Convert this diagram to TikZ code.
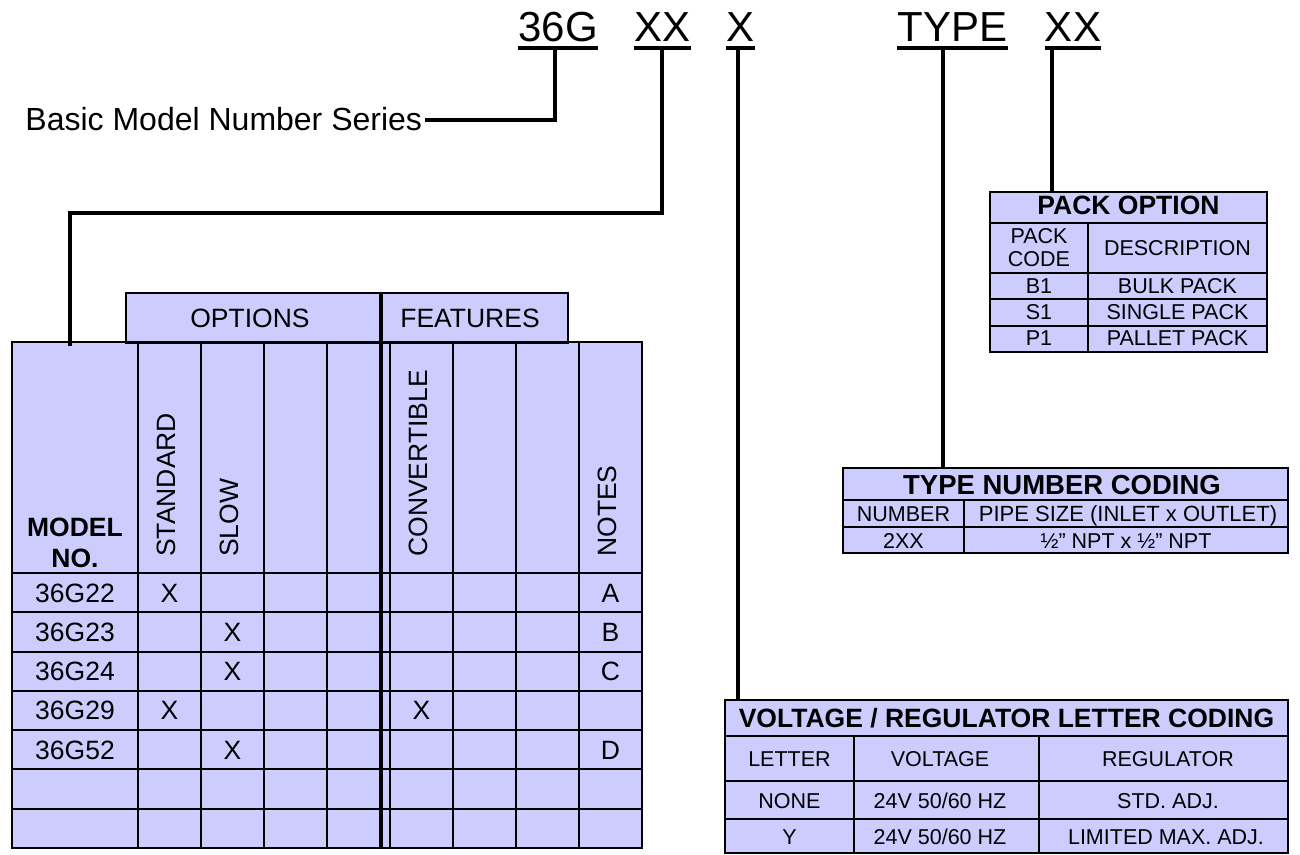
\documentclass[tikz,border=0pt]{standalone}
\usepackage{fontspec}
\setmainfont{Liberation Sans}
\definecolor{cellblue}{HTML}{CCCCFF}
\newcommand\pxf[1]{\fontsize{\fpeval{#1*0.75}pt}{\fpeval{#1*0.9}pt}\selectfont}
\begin{document}
\begin{tikzpicture}[x=0.75pt,y=-0.75pt,
  lead/.style={line width=3pt},
  uline/.style={line width=3pt},
  tline/.style={line width=1.4pt},
  thickdiv/.style={line width=2.6pt},
  codetxt/.style={inner sep=0pt,anchor=base,font=\pxf{42}},
  lbltxt/.style={inner sep=0pt,inner xsep=2pt,anchor=base east,font=\pxf{32}},
  celltxt/.style={inner sep=0pt,anchor=base,font=\pxf{26.5}},
  boldtxt/.style={inner sep=0pt,anchor=base,font=\pxf{26.5}\bfseries},
  titletxt/.style={inner sep=0pt,anchor=base,font=\pxf{27.5}\bfseries},
  rottxt/.style={inner sep=0pt,anchor=base west,rotate=90,font=\pxf{26.5}},
  smalltxt/.style={inner sep=0pt,anchor=base,font=\pxf{21.5}},
  tfill/.style={fill=cellblue}]
\useasboundingbox (0,0) rectangle (1300,855);

% ---------- code labels ----------
\node[codetxt] (c36)  at (558,42)  {36G};
\node[codetxt] (cxx)  at (662.5,42) {XX};
\node[codetxt] (cx)   at (740.5,42) {X};
\node[codetxt] (ctype) at (952.5,42) {TYPE};
\node[codetxt] (cpk)  at (1073,42) {XX};
\foreach \n in {c36,cxx,cx,ctype,cpk}
  \draw[uline] (\n.base west |- 0,48) -- (\n.base east |- 0,48);

\node[lbltxt] (bms) at (425,131) {Basic Model Number Series};

% connector coordinates
\coordinate (u36) at (555,48);
\coordinate (uxx) at (662,48);
\coordinate (ux) at (738,48);
\coordinate (utype) at (943,48);
\coordinate (upk) at (1052,48);
\coordinate (kxx) at (662,213);
\coordinate (kleft) at (70,213);
\coordinate (mtop) at (70,346);
\coordinate (vtop) at (738,700);
\coordinate (ttop) at (943,468);
\coordinate (ptop) at (1052,192);

% ---------- main table ----------
\fill[tfill] (12,342) rectangle (642,848);
\filldraw[tfill,tline] (126,293) rectangle (381,343);
\filldraw[tfill,tline] (381,293) rectangle (568,343);
\draw[tline] (12,342) rectangle (642,848);
\foreach \xx in {138,201,264,327,390,453,516,579}
  \draw[tline] (\xx,342) -- (\xx,848);
\foreach \yy in {573,612.3,651.6,690.9,730.1,769.4,808.7}
  \draw[tline] (12,\yy) -- (642,\yy);
\draw[thickdiv] (381,293) -- (381,848);

\node[celltxt] (hopt) at (250,328) {OPTIONS};
\node[celltxt] (hfeat) at (470,328) {FEATURES};
\node[boldtxt] (hmodel) at (75,537) {MODEL};
\node[boldtxt] (hno) at (75,567) {NO.};
\node[rottxt] (hstd) at (175,557) {STANDARD};
\node[rottxt] (hslow) at (238,557) {SLOW};
\node[rottxt] (hconv) at (427,557) {CONVERTIBLE};
\node[rottxt] (hnotes) at (616,557) {NOTES};

\node[celltxt] (m1) at (75,602) {36G22};
\node[celltxt] (m1a) at (169.5,602) {X};
\node[celltxt] (m1n) at (610.5,602) {A};
\node[celltxt] (m2) at (75,641.3) {36G23};
\node[celltxt] (m2a) at (232.5,641.3) {X};
\node[celltxt] (m2n) at (610.5,641.3) {B};
\node[celltxt] (m3) at (75,680.6) {36G24};
\node[celltxt] (m3a) at (232.5,680.6) {X};
\node[celltxt] (m3n) at (610.5,680.6) {C};
\node[celltxt] (m4) at (75,719.9) {36G29};
\node[celltxt] (m4a) at (169.5,719.9) {X};
\node[celltxt] (m4c) at (421.5,719.9) {X};
\node[celltxt] (m5) at (75,759.2) {36G52};
\node[celltxt] (m5a) at (232.5,759.2) {X};
\node[celltxt] (m5n) at (610.5,759.2) {D};

% ---------- pack option table ----------
\filldraw[tfill,tline] (990,192) rectangle (1267,352);
\foreach \yy in {223,273,299,326}
  \draw[tline] (990,\yy) -- (1267,\yy);
\draw[tline] (1088,223) -- (1088,352);
\node[titletxt,font=\pxf{26.5}\bfseries] (ptitle) at (1128.5,215) {PACK OPTION};
\node[smalltxt] (pc1) at (1039,244) {PACK};
\node[smalltxt] (pc2) at (1039,267) {CODE};
\node[smalltxt] (pdesc) at (1177.5,256) {DESCRIPTION};
\node[smalltxt] (pb1) at (1039,294) {B1};
\node[smalltxt] (pb2) at (1177.5,294) {BULK PACK};
\node[smalltxt] (ps1) at (1039,320) {S1};
\node[smalltxt] (ps2) at (1177.5,320) {SINGLE PACK};
\node[smalltxt] (pp1) at (1039,346) {P1};
\node[smalltxt] (pp2) at (1177.5,346) {PALLET PACK};

% ---------- type number table ----------
\filldraw[tfill,tline] (843,468) rectangle (1288,553);
\foreach \yy in {500,527}
  \draw[tline] (843,\yy) -- (1288,\yy);
\draw[tline] (964,500) -- (964,553);
\node[titletxt] (ttitle) at (1062,494) {TYPE NUMBER CODING};
\node[smalltxt] (tn1) at (903.5,522) {NUMBER};
\node[smalltxt,font=\pxf{22}] (tn2) at (1128,522) {PIPE SIZE (INLET x OUTLET)};
\node[smalltxt] (tv1) at (903.5,548) {2XX};
\node[smalltxt] (tv2) at (1126,548) {½” NPT x ½” NPT};

% ---------- voltage table ----------
\filldraw[tfill,tline] (725,700) rectangle (1288,853);
\foreach \yy in {736,781,819}
  \draw[tline] (725,\yy) -- (1288,\yy);
\draw[tline] (854,736) -- (854,853);
\draw[tline] (1039,736) -- (1039,853);
\node[titletxt,font=\pxf{26.5}\bfseries] (vtitle) at (1006.5,727) {VOLTAGE / REGULATOR LETTER CODING};
\node[smalltxt] (vh1) at (789.5,766) {LETTER};
\node[smalltxt] (vh2) at (940,766) {VOLTAGE};
\node[smalltxt] (vh3) at (1168,766) {REGULATOR};
\node[smalltxt] (vr1) at (789.5,808) {NONE};
\node[smalltxt] (vr2) at (940,808) {24V 50/60 HZ};
\node[smalltxt] (vr3) at (1168,808) {STD. ADJ.};
\node[smalltxt] (vs1) at (789.5,844) {Y};
\node[smalltxt] (vs2) at (940,844) {24V 50/60 HZ};
\node[smalltxt] (vs3) at (1166,844) {LIMITED MAX. ADJ.};

% ---------- connectors ----------
\draw[lead] (u36) |- (bms.east);
\draw[lead] (uxx) -- (kxx) -- (kleft) -- (mtop);
\draw[lead] (ux) -- (vtop);
\draw[lead] (utype) -- (ttop);
\draw[lead] (upk) -- (ptop);
\end{tikzpicture}
\end{document}
